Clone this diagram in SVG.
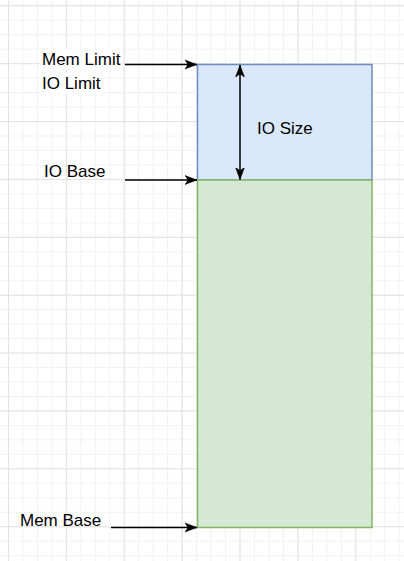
<svg xmlns="http://www.w3.org/2000/svg" width="404" height="561" viewBox="0 0 404 561">
<defs>
<pattern id="minor" patternUnits="userSpaceOnUse" x="8" y="5.3" width="14.47" height="14.47">
<path d="M0.5 0V14.47M0 0.5H14.47" fill="none" stroke="#f1f1f1" stroke-width="1"/>
</pattern>
<pattern id="major" patternUnits="userSpaceOnUse" x="8" y="5.3" width="57.88" height="57.88">
<path d="M0.5 0V57.88M0 0.5H57.88" fill="none" stroke="#e2e2e2" stroke-width="1"/>
</pattern>
<marker id="arr" markerUnits="userSpaceOnUse" markerWidth="14" markerHeight="12" refX="12" refY="5" orient="auto-start-reverse" viewBox="0 0 14 10">
<path d="M0 0.5L12 5L0 9.5L3 5Z" fill="#000" stroke="#000" stroke-width="0.5"/>
</marker>
<style>
.t{font-family:"Liberation Sans",Arial,sans-serif;font-size:17px;fill:#000}
.c{fill:none;stroke:#000;stroke-width:1.5}
</style>
</defs>
<rect width="404" height="561" fill="#fff"/>
<rect width="404" height="561" fill="url(#minor)"/>
<rect width="404" height="561" fill="url(#major)"/>
<g id="io-region">
<rect x="197.5" y="64.5" width="174.5" height="115.5" fill="#dae8fc" stroke="#6c8ebf" stroke-width="1.5"/>
</g>
<g id="mem-region">
<rect x="197.5" y="180" width="174.5" height="347.5" fill="#d5e8d4" stroke="#82b366" stroke-width="1.5"/>
</g>
<g id="label-mem-limit">
<rect x="40" y="49" width="82" height="21" fill="#fff"/>
<text class="t" x="42" y="65">Mem Limit</text>
</g>
<g id="label-io-limit">
<rect x="40" y="73" width="62" height="21" fill="#fff"/>
<text class="t" x="42" y="89.3">IO Limit</text>
</g>
<g id="label-io-base">
<text class="t" x="44" y="177">IO Base</text>
</g>
<g id="label-io-size">
<text class="t" x="257" y="134.3">IO Size</text>
</g>
<g id="label-mem-base">
<text class="t" x="20" y="525.6">Mem Base</text>
</g>
<g id="connectors">
<line class="c" x1="125" y1="64.5" x2="197" y2="64.5" marker-end="url(#arr)"/>
<line class="c" x1="125" y1="180" x2="197" y2="180" marker-end="url(#arr)"/>
<line class="c" x1="111" y1="527.5" x2="197" y2="527.5" marker-end="url(#arr)"/>
<line class="c" x1="240" y1="65" x2="240" y2="179.5" marker-start="url(#arr)" marker-end="url(#arr)"/>
</g>
</svg>
